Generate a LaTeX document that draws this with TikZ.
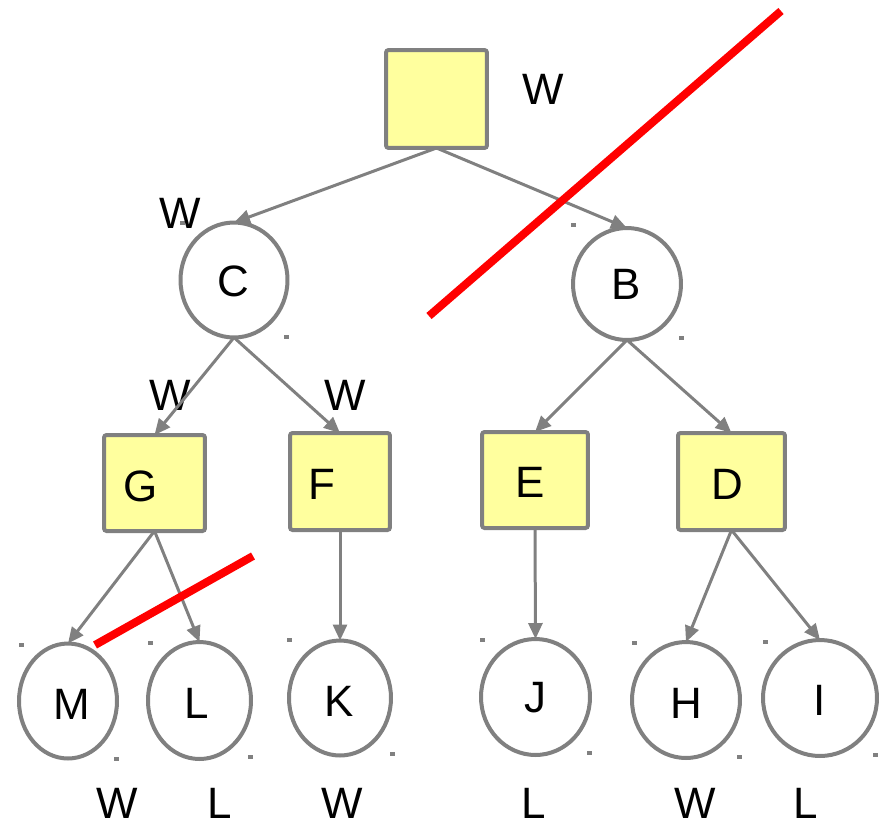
\documentclass[tikz,border=0pt]{standalone}
\usepackage{fontspec}
\setmainfont{Liberation Sans}
\usetikzlibrary{arrows.meta,shapes.geometric}
\definecolor{edgegray}{RGB}{128,128,128}
\definecolor{boxfill}{RGB}{255,255,158}
\definecolor{cutred}{RGB}{255,0,0}
\begin{document}
\begin{tikzpicture}[x=0.02cm,y=-0.02cm,
  every node/.style={inner sep=0pt,outer sep=0pt,font=\fontsize{25}{30}\selectfont},
  maxbox/.style={draw=edgegray,line width=0.08cm,fill=boxfill,rounded corners=1.5pt},
  chance/.style={ellipse,draw=edgegray,line width=0.08cm,fill=white},
  txt/.style={text=black},
  edge/.style={draw=edgegray,line width=0.06cm,-{Triangle[length=0.32cm,width=0.28cm]}},
  cut/.style={draw=cutred,line width=0.16cm},
  marker/.style={fill=edgegray}]
\useasboundingbox (0,0) rectangle (886,826);

% decision squares
\node[maxbox,minimum width=2.02cm,minimum height=1.96cm] (A) at (436.5,99) {};
\node[maxbox,minimum width=2.02cm,minimum height=1.92cm] (G) at (154.5,483) {};
\node[maxbox,minimum width=2.00cm,minimum height=1.94cm] (F) at (340,481.5) {};
\node[maxbox,minimum width=2.12cm,minimum height=1.92cm] (E) at (535,480) {};
\node[maxbox,minimum width=2.14cm,minimum height=1.94cm] (D) at (731.5,481.5) {};
\node[txt] (Gt) at (141,486) {G};
\node[txt] (Ft) at (322,484) {F};
\node[txt] (Et) at (530,482) {E};
\node[txt] (Dt) at (727,484) {D};

% circles
\node[chance,minimum width=2.14cm,minimum height=2.3cm] (C) at (234,280) {};
\node[chance,minimum width=2.16cm,minimum height=2.24cm] (B) at (627,284) {};
\node[chance,minimum width=1.96cm,minimum height=2.3cm] (M) at (68,701) {};
\node[chance,minimum width=2.06cm,minimum height=2.34cm] (L) at (199.5,700.5) {};
\node[chance,minimum width=2.04cm,minimum height=2.3cm] (K) at (340,698) {};
\node[chance,minimum width=2.18cm,minimum height=2.32cm] (J) at (535.5,697) {};
\node[chance,minimum width=2.16cm,minimum height=2.32cm] (H) at (686,700) {};
\node[chance,minimum width=2.28cm,minimum height=2.32cm] (I) at (820,698) {};
\node[txt] (Ct) at (233,281) {C};
\node[txt] (Bt) at (626,284) {B};
\node[txt] (Mt) at (72,704) {M};
\node[txt] (Lt) at (197,703) {L};
\node[txt] (Kt) at (339,701) {K};
\node[txt] (Jt) at (535,698) {J};
\node[txt] (Ht) at (686,703) {H};
\node[txt] (It) at (820,700) {I};

% small corner markers of the circles
\foreach \px/\py in {182/223,286/337,573/225,681/338,21/645,116/759,150/643,250/757,
  289/640,392/754,482/640,589/753,634/643,739/757,765/642,875/755}
  \fill[marker] (\px-2.5,\py-2) rectangle (\px+2.5,\py+2);

% value labels
\node[txt] (wA) at (543,89) {W};
\node[txt] (wC) at (180,213) {W};
\node[txt] (wG) at (170,395) {W};
\node[txt] (wF) at (345,395) {W};
\node[txt] (vM) at (117,803) {W};
\node[txt] (vL) at (220,803) {L};
\node[txt] (vK) at (342,803) {W};
\node[txt] (vJ) at (534,803) {L};
\node[txt] (vH) at (695,803) {W};
\node[txt] (vI) at (806,803) {L};

% connectors
\draw[edge] (A.south) -- (C.north);
\draw[edge] (A.south) -- (B.north);
\draw[edge] (C.south) -- (G.north);
\draw[edge] (C.south) -- (F.north);
\draw[edge] (B.south) -- (E.north);
\draw[edge] (B.south) -- (D.north);
\draw[edge] (G.south) -- (M.north);
\draw[edge] (G.south) -- (L.north);
\draw[edge] (F.south) -- (K.north);
\draw[edge] (E.south) -- (J.north);
\draw[edge] (D.south) -- (H.north);
\draw[edge] (D.south) -- (I.north);

% pruning cuts
\coordinate (cut1a) at (429,316);
\coordinate (cut1b) at (781,11);
\coordinate (cut2a) at (95,645);
\coordinate (cut2b) at (253,556);
\draw[cut] (cut1a) -- (cut1b);
\draw[cut] (cut2a) -- (cut2b);
\end{tikzpicture}
\end{document}
